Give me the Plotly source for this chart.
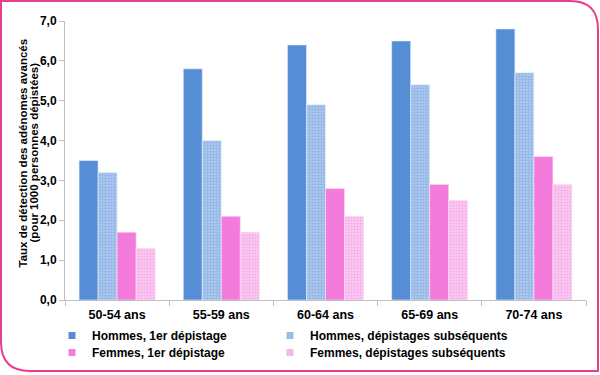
import plotly.graph_objects as go

categories = ["50-54 ans", "55-59 ans", "60-64 ans", "65-69 ans", "70-74 ans"]
hommes_1er = [3.5, 5.8, 6.4, 6.5, 6.8]
hommes_subs = [3.2, 4.0, 4.9, 5.4, 5.7]
femmes_1er = [1.7, 2.1, 2.8, 2.9, 3.6]
femmes_subs = [1.3, 1.7, 2.1, 2.5, 2.9]
series_names = ["Hommes, 1er dépistage", "Hommes, dépistages subséquents",
                "Femmes, 1er dépistage", "Femmes, dépistages subséquents"]
y_ticks = [0, 1, 2, 3, 4, 5, 6, 7]
y_title_lines = ["Taux de détection des adénomes avancés", "(pour 1000 personnes dépistées)"]

BLUE = "#558ED5"
PINK = "#F27BDC"
FONT = "Liberation Sans, Arial, sans-serif"

W, H = 600, 375
ML, MR, MT, MB = 65, 14, 21, 75
PW, PH = W - ML - MR, H - MT - MB

styles = [
    dict(color=BLUE, line=dict(color="#EAF0FA", width=0.6)),
    dict(color="#9CBBE8", line=dict(color="#EAF0FA", width=0.6),
         pattern=dict(shape=".", fgcolor="#6E9BDB", bgcolor="#B3CBEE", size=3, solidity=0.5)),
    dict(color=PINK, line=dict(color="#FBE3F6", width=0.6)),
    dict(color="#F8BDEC", line=dict(color="#FBE3F6", width=0.6),
         pattern=dict(shape=".", fgcolor="#F28CDF", bgcolor="#FAD0F3", size=3, solidity=0.5)),
]
legend_colors = [BLUE, "#9CBBE8", PINK, "#F7B5EA"]
legend_ids = ["legend", "legend2", "legend3", "legend4"]
values = [hommes_1er, hommes_subs, femmes_1er, femmes_subs]

fig = go.Figure()
for name, vals, st in zip(series_names, values, styles):
    fig.add_trace(go.Bar(name=name, x=categories, y=vals, marker=st, showlegend=False))
for name, col, lg in zip(series_names, legend_colors, legend_ids):
    fig.add_trace(go.Scatter(name=name, x=[categories[0]], y=[None], mode="markers",
                             marker=dict(symbol="square", size=7, color=col),
                             legend=lg, showlegend=True, hoverinfo="skip"))


def px(x):
    return (x - ML) / PW


def py(y):
    return (H - MB - y) / PH


path = (f"M{px(1)},{py(1)} L{px(570)},{py(1)} Q{px(598)},{py(1)} {px(598)},{py(29)} "
        f"L{px(598)},{py(371)} L{px(30)},{py(371)} Q{px(1)},{py(371)} {px(1)},{py(342)} Z")

leg_font = dict(family=FONT, size=12, color="#000000", weight="bold")
leg_pos = {"legend": (52, 321), "legend2": (270, 321), "legend3": (52, 338), "legend4": (270, 338)}
legends = {k: dict(orientation="v", x=px(x0), xanchor="left", y=py(y0), yanchor="top",
                   font=leg_font, itemclick=False, itemdoubleclick=False,
                   bgcolor="rgba(0,0,0,0)", itemwidth=30)
           for k, (x0, y0) in leg_pos.items()}

annotations = []
for txt, xc in zip(y_title_lines, [22.5, 33.5]):
    annotations.append(dict(text=txt, xref="paper", yref="paper", x=px(xc), y=py(153),
                            xanchor="center", yanchor="middle", textangle=-90, showarrow=False,
                            font=dict(family=FONT, size=11.5, color="#000000", weight="bold")))

fig.update_layout(
    width=W, height=H,
    margin=dict(l=ML, r=MR, t=MT, b=MB, pad=0, autoexpand=False),
    paper_bgcolor="white", plot_bgcolor="white",
    barmode="group", bargap=0.27, bargroupgap=0,
    separators=", ",
    font=dict(family=FONT, size=12, color="#000000"),
    showlegend=True,
    **legends,
    xaxis=dict(showline=True, linecolor="#BFBFBF", linewidth=1, ticks="outside",
               tickson="boundaries", ticklen=5, tickcolor="#BFBFBF", automargin=False,
               ticklabelstandoff=3,
               tickfont=dict(family=FONT, size=12.5, weight="bold"), showgrid=False),
    yaxis=dict(range=[0, 7], tickvals=y_ticks, tickformat=".1f", showline=True,
               linecolor="#BFBFBF", linewidth=1, ticks="outside", ticklen=5,
               tickcolor="#BFBFBF", showgrid=False, zeroline=False, automargin=False,
               tickfont=dict(family=FONT, size=12, weight="bold")),
    annotations=annotations,
    shapes=[dict(type="path", xref="paper", yref="paper", path=path,
                 line=dict(color="#E83E8C", width=2), fillcolor="rgba(0,0,0,0)", layer="below")],
)

fig.write_html("out.html", config={"displayModeBar": False},
               post_script="document.body.style.margin='0';")
